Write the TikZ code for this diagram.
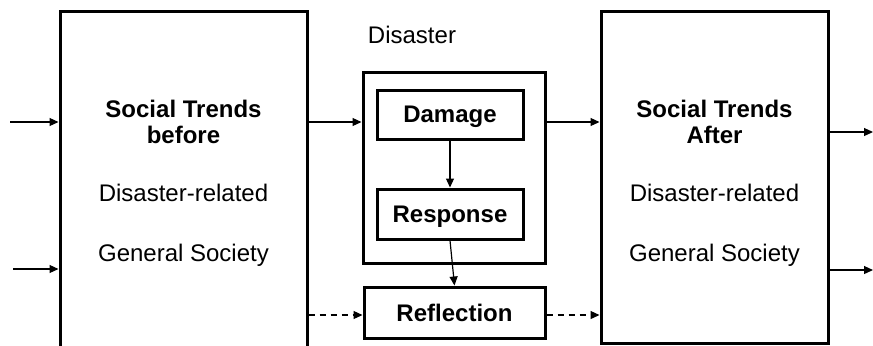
\documentclass[tikz,border=0pt]{standalone}
\usepackage{fontspec}
\setmainfont{Liberation Sans}
\usetikzlibrary{arrows.meta}

\begin{document}
\begin{tikzpicture}[x=0.5pt,y=-0.5pt,font=\fontsize{12}{14}\selectfont,
  bigbox/.style={draw,line width=1.5pt,inner sep=0pt},
  stagebox/.style={draw,line width=1.5pt,inner sep=0pt,text depth=0pt,font=\fontsize{12}{14}\selectfont\bfseries},
  flow/.style={line width=0.6pt,-{Triangle[length=4.5pt,width=4pt]}},
  dflow/.style={flow,dash pattern=on 3pt off 2.5pt}]
\clip (0,0) rectangle (873,345);

\node[bigbox,minimum width=123.5pt,minimum height=175pt] (before) at (183.5,186) {};
\node[bigbox,minimum width=113.5pt,minimum height=166pt] (after) at (714.5,177) {};
\node[bigbox,minimum width=91pt,minimum height=95.5pt] (disaster) at (454,167.5) {};
\node[stagebox,minimum width=73pt,minimum height=24.5pt] (damage) at (450,114.5) {Damage};
\node[stagebox,minimum width=73pt,minimum height=25pt] (response) at (450,214) {Response};
\node[stagebox,minimum width=90.5pt,minimum height=25.5pt] (reflection) at (454.5,312.5) {Reflection};
\node (dislabel) at (412,35) {Disaster};

\node[font=\fontsize{12}{14}\selectfont\bfseries,align=center] (btitle) at (183.5,122) {Social Trends\\[-1pt]before};
\node (bdis) at (183.5,193) {Disaster-related};
\node (bgen) at (183.5,255) {General Society};
\node[font=\fontsize{12}{14}\selectfont\bfseries,align=center] (atitle) at (714.5,122) {Social Trends\\[-1pt]After};
\node (adis) at (714.5,193) {Disaster-related};
\node (agen) at (714.5,255) {General Society};

\coordinate (in1) at (10,122);
\coordinate (in2) at (13,269);
\coordinate (out1) at (873,132);
\coordinate (out2) at (873,270);
\coordinate (low) at (0,315);

\draw[flow] (in1) -- (in1 -| before.west);
\draw[flow] (in2) -- (in2 -| before.west);
\draw[flow] (in1 -| before.east) -- (in1 -| disaster.west);
\draw[flow] (in1 -| disaster.east) -- (in1 -| after.west);
\draw[dflow] (low -| before.east) -- (low -| reflection.west);
\draw[dflow] (low -| reflection.east) -- (low -| after.west);
\draw[flow] (out1 -| after.east) -- (out1);
\draw[flow] (out2 -| after.east) -- (out2);
\draw[flow] (damage) -- (response);
\draw[flow] (response.south) -- (reflection.north);
\end{tikzpicture}
\end{document}
